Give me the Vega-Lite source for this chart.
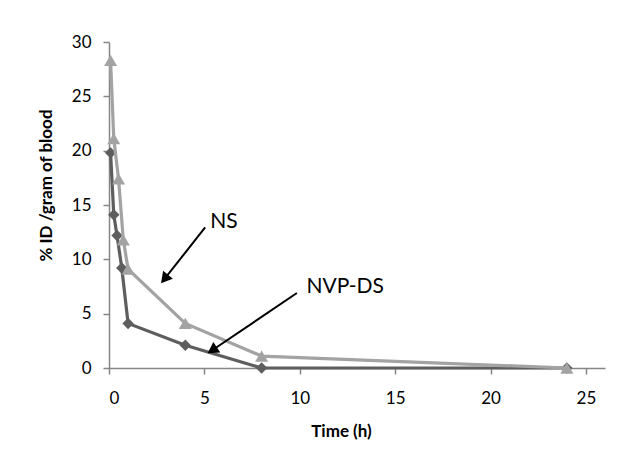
{
  "$schema": "https://vega.github.io/schema/vega-lite/v6.json",
  "width": 496,
  "height": 326,
  "autosize": "none",
  "padding": {"left": 109, "top": 42, "right": 36, "bottom": 88},
  "background": "white",
  "config": {
    "view": {"stroke": null},
    "font": "Lato",
    "axis": {
      "grid": false,
      "domainColor": "#868686",
      "domainWidth": 1.5,
      "tickColor": "#868686",
      "tickWidth": 1.5,
      "tickSize": 6,
      "labelFont": "Lato",
      "labelFontSize": 17,
      "labelColor": "#000000",
      "titleFont": "Lato",
      "titleFontSize": 17,
      "titleFontWeight": "bold",
      "titleColor": "#000000"
    }
  },
  "datasets": {
    "series": [
      {"time": 0.083, "value": 28.3, "group": "NS"},
      {"time": 0.25, "value": 21.1, "group": "NS"},
      {"time": 0.5, "value": 17.4, "group": "NS"},
      {"time": 0.75, "value": 11.8, "group": "NS"},
      {"time": 1, "value": 9.1, "group": "NS"},
      {"time": 4, "value": 4.1, "group": "NS"},
      {"time": 8, "value": 1.1, "group": "NS"},
      {"time": 24, "value": 0, "group": "NS"},
      {"time": 0.083, "value": 19.8, "group": "NVP-DS"},
      {"time": 0.25, "value": 14.1, "group": "NVP-DS"},
      {"time": 0.42, "value": 12.2, "group": "NVP-DS"},
      {"time": 0.67, "value": 9.2, "group": "NVP-DS"},
      {"time": 1, "value": 4.1, "group": "NVP-DS"},
      {"time": 4, "value": 2.1, "group": "NVP-DS"},
      {"time": 8, "value": 0, "group": "NVP-DS"},
      {"time": 24, "value": 0, "group": "NVP-DS"}
    ],
    "labels": [
      {"label": "NS", "x": 6.03, "y": 13.4},
      {"label": "NVP-DS", "x": 12.38, "y": 7.43}
    ],
    "arrows": [
      {"label": "NS", "x": 5.04, "y": 12.93, "hx": 2.91, "hy": 8.2},
      {"label": "NVP-DS", "x": 9.85, "y": 6.9, "hx": 5.41, "hy": 1.63}
    ]
  },
  "layer": [
    {
      "data": {"name": "series"},
      "transform": [{"filter": "datum.group === 'NVP-DS'"}],
      "mark": {"type": "line", "color": "#5e5e5e", "strokeWidth": 3.2},
      "encoding": {
        "x": {"field": "time", "type": "quantitative", "scale": {"domain": [0, 25]},
          "axis": {"values": [0, 5, 10, 15, 20, 25], "title": "Time (h)", "labelPadding": 16, "titleX": 232, "titleY": 63, "titleBaseline": "middle", "titleAlign": "center"}},
        "y": {"field": "value", "type": "quantitative", "scale": {"domain": [0, 30]},
          "axis": {"values": [0, 5, 10, 15, 20, 25, 30], "title": "% ID /gram of blood", "labelPadding": 12, "titleX": -63, "titleY": 143, "titleAngle": -90, "titleAlign": "center", "titleBaseline": "middle"}}
      }
    },
    {
      "data": {"name": "series"},
      "transform": [{"filter": "datum.group === 'NVP-DS'"}],
      "mark": {"type": "point", "shape": "diamond", "filled": true, "opacity": 1, "color": "#5e5e5e", "size": 130},
      "encoding": {
        "x": {"field": "time", "type": "quantitative"},
        "y": {"field": "value", "type": "quantitative"}
      }
    },
    {
      "data": {"name": "series"},
      "transform": [{"filter": "datum.group === 'NS'"}],
      "mark": {"type": "line", "color": "#a3a3a3", "strokeWidth": 3.2},
      "encoding": {
        "x": {"field": "time", "type": "quantitative"},
        "y": {"field": "value", "type": "quantitative"}
      }
    },
    {
      "data": {"name": "series"},
      "transform": [{"filter": "datum.group === 'NS'"}],
      "mark": {"type": "point", "shape": "triangle-up", "filled": true, "opacity": 1, "color": "#a3a3a3", "size": 170},
      "encoding": {
        "x": {"field": "time", "type": "quantitative"},
        "y": {"field": "value", "type": "quantitative"}
      }
    },
    {
      "data": {"name": "arrows"},
      "mark": {"type": "rule", "color": "#000000", "strokeWidth": 2},
      "encoding": {
        "x": {"field": "x", "type": "quantitative"},
        "y": {"field": "y", "type": "quantitative"},
        "x2": {"field": "hx"},
        "y2": {"field": "hy"}
      }
    },
    {
      "data": {"name": "arrows"},
      "transform": [{"filter": "datum.label === 'NS'"}],
      "mark": {"type": "point", "shape": "triangle-up", "filled": true, "opacity": 1, "color": "#000000", "size": 160, "angle": 219.4},
      "encoding": {
        "x": {"field": "hx", "type": "quantitative"},
        "y": {"field": "hy", "type": "quantitative"}
      }
    },
    {
      "data": {"name": "arrows"},
      "transform": [{"filter": "datum.label === 'NVP-DS'"}],
      "mark": {"type": "point", "shape": "triangle-up", "filled": true, "opacity": 1, "color": "#000000", "size": 160, "angle": 237.0},
      "encoding": {
        "x": {"field": "hx", "type": "quantitative"},
        "y": {"field": "hy", "type": "quantitative"}
      }
    },
    {
      "data": {"name": "labels"},
      "mark": {"type": "text", "font": "Lato", "fontSize": 21, "color": "#000000", "align": "center", "baseline": "middle"},
      "encoding": {
        "x": {"field": "x", "type": "quantitative"},
        "y": {"field": "y", "type": "quantitative"},
        "text": {"field": "label"}
      }
    }
  ]
}
